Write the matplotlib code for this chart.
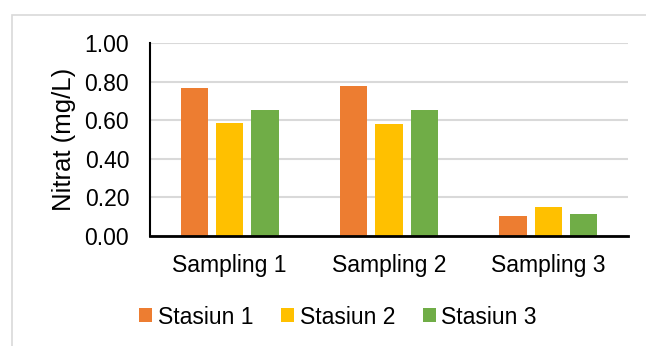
import matplotlib
matplotlib.use("Agg")
import matplotlib.pyplot as plt
from matplotlib.patches import Rectangle
import numpy as np

plt.rcParams['font.family'] = ['Liberation Sans', 'DejaVu Sans']

categories = ["Sampling 1", "Sampling 2", "Sampling 3"]
series_names = ["Stasiun 1", "Stasiun 2", "Stasiun 3"]
stasiun_1 = [0.765, 0.777, 0.102]
stasiun_2 = [0.584, 0.580, 0.149]
stasiun_3 = [0.653, 0.653, 0.114]
colors = ["#ED7D31", "#FFC000", "#70AD47"]
y_ticks = [0.0, 0.2, 0.4, 0.6, 0.8, 1.0]

W, H = 646, 346
fig = plt.figure(figsize=(W / 100, H / 100), dpi=100)
fig.patch.set_facecolor("white")

# chart-area frame
fig.add_artist(Rectangle((12 / W, -0.1), 1.2, (H - 15) / H + 0.1,
                         transform=fig.transFigure, fill=False,
                         edgecolor="#d9d9d9", linewidth=1.2))

ax = fig.add_axes([150 / W, (H - 236) / H, (628 - 150) / W, (236 - 43) / H])

x = np.arange(len(categories))
width = 0.1726
step = 0.2216
for i, (vals, name, c) in enumerate(zip([stasiun_1, stasiun_2, stasiun_3],
                                          series_names, colors)):
    ax.bar(x + (i - 1) * step, vals, width, color=c, label=name, zorder=3)

ax.set_xlim(-0.5, 2.5)
ax.set_ylim(0, 1.0)
ax.set_yticks(y_ticks)
ax.set_yticklabels([f"{v:.2f}" for v in y_ticks])
ax.set_xticks(x)
ax.set_xticklabels(categories)
ax.tick_params(axis="both", length=0, labelsize=16.5, colors="#000000")
ax.tick_params(axis="y", pad=15)
ax.tick_params(axis="x", pad=13)

ax.grid(axis="y", color="#d9d9d9", linewidth=1.5, zorder=0)
ax.set_axisbelow(True)
for s in ["top", "right"]:
    ax.spines[s].set_visible(False)
ax.spines["left"].set_color("black")
ax.spines["left"].set_linewidth(1.5)
ax.spines["bottom"].set_color("black")
ax.spines["bottom"].set_linewidth(2.0)
ax.spines["left"].set_zorder(4)
ax.spines["bottom"].set_zorder(4)

ax.set_ylabel("Nitrat (mg/L)", fontsize=18.5)
ax.yaxis.set_label_coords(-0.155, 0.5)

leg = fig.legend(loc="center", bbox_to_anchor=(338 / W, (H - 317) / H),
                 ncol=3, frameon=False, fontsize=16.5,
                 handlelength=0.55, handleheight=0.55, handletextpad=0.26,
                 columnspacing=1.22, borderpad=0)

fig.savefig("out.png", dpi=100, facecolor="white")
